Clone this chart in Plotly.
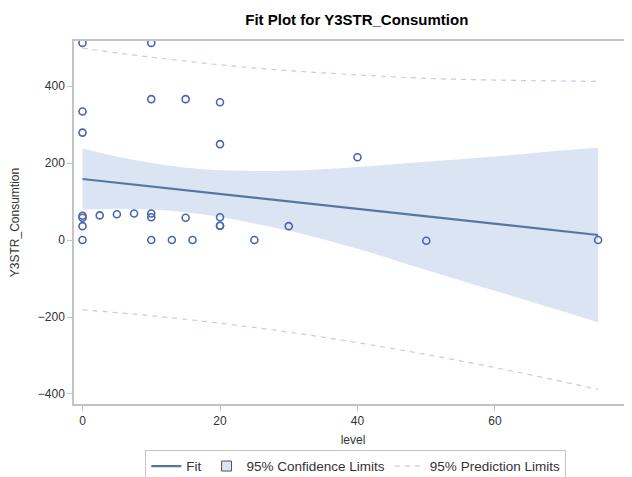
import plotly.graph_objects as go

# Observed data
obs_x = [0, 0, 0, 0, 0, 0, 0, 2.5, 5, 7.5, 10, 10, 10, 10, 10, 13, 15, 15, 16,
         20, 20, 20, 20, 20, 25, 30, 40, 50, 75]
obs_y = [512, 334, 279, 63, 58, 36, 0, 64, 67, 69, 512, 366, 69, 59, 0, 0, 366, 58, 0,
         358, 249, 59, 37, 37, 0, 36, 215, -2, 0]

# Fit and limits
band_x = [0, 5, 10, 15, 20, 25, 30, 35, 40, 45, 50, 55, 60, 65, 70, 75]
fit_y = [158.5, 148.8, 139.1, 129.4, 119.7, 110, 100.3, 90.6, 80.9, 71.2, 61.5, 51.8,
         42.1, 32.4, 22.7, 13]
ci_upper = [238, 217, 200, 188, 181, 179, 180, 184, 190, 196, 203, 210, 217, 225, 233, 240]
ci_lower = [79, 81, 79, 72, 60, 43, 24, 2, -23, -50, -78, -105, -132, -159, -186, -214]
pi_upper = [498.5, 486, 475, 465, 455, 447, 440, 434, 429, 424, 420, 417.5, 415.5, 414,
            413, 412]
pi_lower = [-181.5, -188.6, -196.8, -205.9, -216.1, -227.2, -239.4, -252.5, -266.6,
            -281.5, -297.4, -314, -331.5, -349.7, -368.5, -388]

x_ticks = [0, 20, 40, 60]
y_ticks = [-400, -200, 0, 200, 400]
x_range = [-1.24, 79.93]

FONT = "Liberation Sans, Arial, sans-serif"
FRAME = "#c4c4c4"
BAND = "#dae4f2"
FIT = "#5a74a0"
PRED = "#c5cbe9"
MARK = "#4a64b4"
TXT = "#333333"

fig = go.Figure()

# CI band
fig.add_trace(go.Scatter(x=band_x, y=ci_upper, mode="lines", line=dict(width=0, color=BAND),
                         showlegend=False, hoverinfo="skip", line_shape="spline"))
fig.add_trace(go.Scatter(x=band_x, y=ci_lower, mode="lines", line=dict(width=0, color=BAND),
                         fill="tonexty", fillcolor=BAND, showlegend=False, hoverinfo="skip",
                         line_shape="spline"))
# Prediction limits
fig.add_trace(go.Scatter(x=band_x, y=pi_upper, mode="lines", line_shape="spline",
                         line=dict(color=PRED, width=1.2, dash="5px,5px"), showlegend=False))
fig.add_trace(go.Scatter(x=band_x, y=pi_lower, mode="lines", line_shape="spline",
                         line=dict(color=PRED, width=1.2, dash="5px,5px"), showlegend=False))
# Fit line
fig.add_trace(go.Scatter(x=band_x, y=fit_y, mode="lines", line=dict(color=FIT, width=2.2),
                         name="Fit", showlegend=True))
# legend entries
fig.add_trace(go.Scatter(x=[None], y=[None], mode="markers", name="95% Confidence Limits",
                         marker=dict(symbol="square", size=10, color=BAND,
                                     line=dict(color="#555555", width=1))))
fig.add_trace(go.Scatter(x=[None], y=[None], mode="lines", name="95% Prediction Limits",
                         line=dict(color=PRED, width=1.2, dash="5px,5px")))
# Observations
fig.add_trace(go.Scatter(x=obs_x, y=obs_y, mode="markers", showlegend=False,
                         marker=dict(symbol="circle-open", size=7, color=MARK,
                                     line=dict(width=1.6, color=MARK))))

# partially visible "80" tick label at the cropped right edge
fig.add_annotation(x=(80 - x_range[0]) / (x_range[1] - x_range[0]), y=0, xref="paper",
                   yref="paper", xanchor="center", yanchor="top", yshift=-7,
                   text="80", showarrow=False, font=dict(family=FONT, size=12, color=TXT))

fig.update_layout(
    width=624, height=469,
    margin=dict(l=66, r=0, t=33, b=73, autoexpand=False),
    paper_bgcolor="white", plot_bgcolor="white",
    font=dict(family=FONT, size=12, color=TXT),
    title=dict(text="<b>Fit Plot for Y3STR_Consumtion</b>", x=0.559, xanchor="center",
               y=0.975, yanchor="middle", font=dict(family=FONT, size=15, color="#000000")),
    showlegend=True,
    legend=dict(orientation="h", x=0.505, xanchor="center", y=-0.217, yanchor="bottom",
                traceorder="normal",
                bordercolor=FRAME, borderwidth=1, font=dict(family=FONT, size=13.5, color=TXT)),
)
fig.update_xaxes(range=x_range, tickvals=x_ticks, showgrid=False, zeroline=False,
                 showline=True, linecolor=FRAME, linewidth=1.5, mirror=True, automargin=False,
                 ticks="outside", ticklen=5, tickcolor=FRAME,
                 title=dict(text="level", standoff=8, font=dict(family=FONT, size=12, color=TXT)))
fig.update_yaxes(range=[-426, 517], tickvals=y_ticks, showgrid=False, zeroline=False,
                 showline=True, linecolor=FRAME, linewidth=1.5, mirror=True, automargin=False,
                 ticks="outside", ticklen=5, tickcolor=FRAME,
                 title=dict(text="Y3STR_Consumtion", standoff=17,
                            font=dict(family=FONT, size=12, color=TXT)))

fig.write_html("out.html")
